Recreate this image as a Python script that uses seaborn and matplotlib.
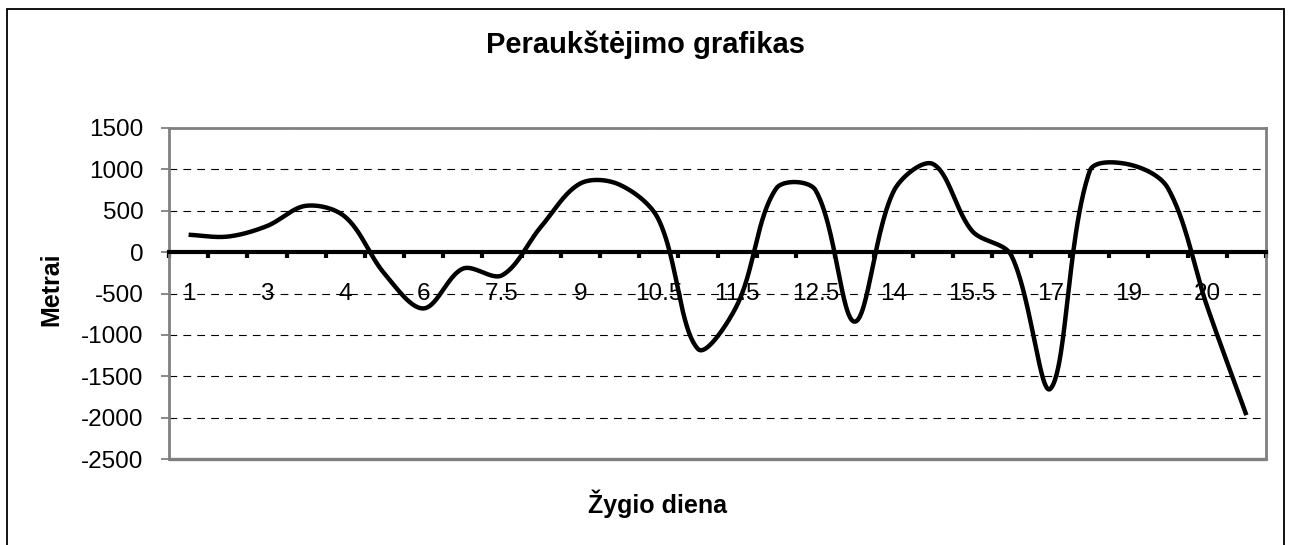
import numpy as np
import pandas as pd
import matplotlib
matplotlib.use("Agg")
import matplotlib.pyplot as plt
from matplotlib.patches import Rectangle
import seaborn as sns

# ---- data ----
day_labels = ["1", "3", "4", "6", "7.5", "9", "10.5", "11.5", "12.5",
              "14", "15.5", "17", "19", "20"]            # shown on every 2nd category
elevation = [210, 188, 315, 560, 425, -260, -680, -200, -280, 310,
             830, 815, 390, -1170, -640, 770, 750, -840, 740, 1065,
             255, -40, -1650, 980, 1060, 770, -660, -1970]  # metres per category
y_ticks = [1500, 1000, 500, 0, -500, -1000, -1500, -2000, -2500]

title = "Peraukštėjimo grafikas"
x_title = "Žygio diena"
y_title = "Metrai"

# ---- style ----
sns.set_theme(style="white")
plt.rcParams["font.family"] = ["Liberation Sans", "DejaVu Sans"]

W, H = 1292, 545
fig = plt.figure(figsize=(W / 100, H / 100), dpi=100)
L, R, T, B = 169, 1266, 128, 459
ax = fig.add_axes([L / W, 1 - B / H, (R - L) / W, (B - T) / H])

n = len(elevation)
xs = np.arange(n, dtype=float)
ys = np.asarray(elevation, dtype=float)
ymin, ymax = min(y_ticks), max(y_ticks)

# Excel-like smoothed line: cubic Bezier segments, control arms along the
# neighbour direction, split in proportion to the on-screen segment lengths.
kx = (R - L) / n                  # px per category
ky = (B - T) / (ymax - ymin)      # px per metre
P = np.column_stack([xs * kx, ys * ky])
c_after = np.zeros_like(P)
c_before = np.zeros_like(P)
for i in range(n):
    a = P[max(i - 1, 0)]
    b = P[min(i + 1, n - 1)]
    d0 = np.linalg.norm(P[i] - a)
    d1 = np.linalg.norm(b - P[i])
    s = d0 + d1 if d0 + d1 > 0 else 1.0
    c_after[i] = P[i] + (b - a) / 3 * d1 / s
    c_before[i] = P[i] - (b - a) / 3 * d0 / s
t = np.linspace(0, 1, 50)[:, None]
pts = []
for i in range(n - 1):
    p0, p3 = P[i], P[i + 1]
    c1, c2 = c_after[i], c_before[i + 1]
    pts.append((1 - t) ** 3 * p0 + 3 * (1 - t) ** 2 * t * c1
               + 3 * (1 - t) * t ** 2 * c2 + t ** 3 * p3)
pts = np.vstack(pts)
curve = pd.DataFrame({"x": pts[:, 0] / kx, "y": pts[:, 1] / ky})

sns.lineplot(data=curve, x="x", y="y", sort=False, color="black",
             linewidth=3.2, ax=ax, zorder=5, solid_capstyle="butt")

# ---- axes ----
ax.set_xlim(-0.5, n - 0.5)
ax.set_ylim(ymin, ymax)
ax.set_xlabel("")
ax.set_ylabel("")
ax.set_facecolor("white")

ax.set_yticks(y_ticks)
ax.set_yticklabels([str(v) for v in y_ticks], fontsize=17.5, color="black")
ax.tick_params(axis="y", which="major", direction="out", length=5.5, width=1.3,
               color="#808080", pad=13, left=True)

ax.yaxis.grid(True, color="black", linewidth=0.8, linestyle=(0, (7, 5.5)), zorder=0)
ax.xaxis.grid(False)
ax.set_axisbelow(True)

# x axis at y = 0 with category boundary ticks
ax.spines["bottom"].set_position(("data", 0))
ax.spines["bottom"].set_color("black")
ax.spines["bottom"].set_linewidth(3)
ax.spines["bottom"].set_zorder(4)
for s in ["left", "top", "right"]:
    ax.spines[s].set_color("#808080")
    ax.spines[s].set_linewidth(2)
ax.axhline(ymin, color="#808080", linewidth=2.4, clip_on=False, zorder=3)

ax.set_xticks(np.arange(-0.5, n, 1.0))
ax.set_xticklabels([])
ax.tick_params(axis="x", which="major", direction="out", length=4.5, width=3,
               color="black", bottom=True)
ax.set_xticks(xs[::2], minor=True)
ax.set_xticklabels(day_labels, minor=True, fontsize=17.5, color="black")
ax.tick_params(axis="x", which="minor", length=0, pad=22, bottom=True)

# ---- titles ----
fig.text(645.5 / W, 1 - 53.3 / H, title, ha="center", va="baseline",
         fontsize=21, fontweight="bold", color="black")
fig.text(657 / W, 1 - 512.7 / H, x_title, ha="center", va="baseline",
         fontsize=18, fontweight="bold", color="black")
fig.text(51 / W, 1 - 289 / H, y_title, ha="center", va="center", rotation=90,
         fontsize=18, fontweight="bold", color="black")

# outer chart frame
fig.patches.append(Rectangle((7 / W, -0.05), 1277 / W, 1.05 - 9 / H,
                             transform=fig.transFigure, fill=False,
                             edgecolor="black", linewidth=1.3))

fig.savefig("out.png", dpi=100, facecolor="white")
